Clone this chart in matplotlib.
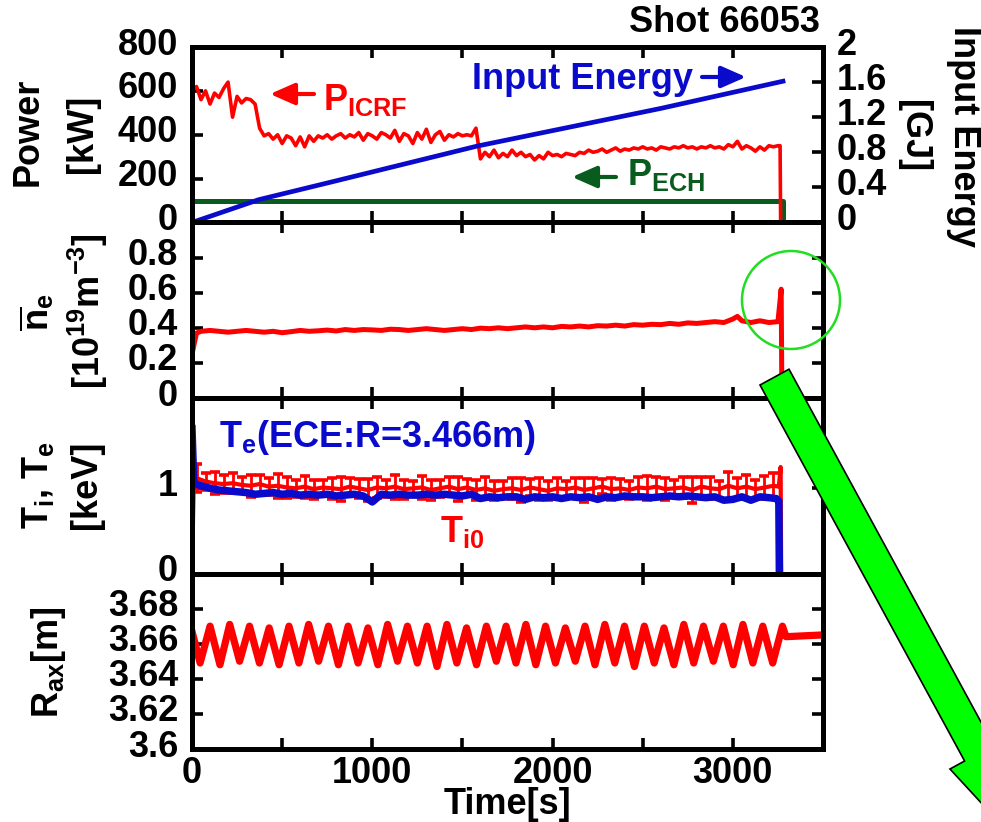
import numpy as np
import matplotlib
matplotlib.use("Agg")
import matplotlib.pyplot as plt
import matplotlib.transforms as mtransforms
from matplotlib.patches import Circle, Polygon

plt.rcParams['font.family'] = ['Liberation Sans', 'DejaVu Sans']
plt.rcParams['font.weight'] = 'bold'
plt.rcParams['mathtext.fontset'] = 'custom'
plt.rcParams['mathtext.rm'] = 'Liberation Sans:bold'
plt.rcParams['mathtext.it'] = 'Liberation Sans:bold'
plt.rcParams['mathtext.bf'] = 'Liberation Sans:bold'
plt.rcParams['mathtext.sf'] = 'Liberation Sans:bold'

# ---------------- data ----------------
icrf_t = list(np.arange(0, 3251, 25)) + [3262, 3265]
icrf_v = [600, 620, 560, 600, 540, 590, 570, 610, 640, 480,
          575, 545, 565, 560, 540, 430, 395, 405, 380, 400,
          360, 395, 385, 350, 390, 345, 395, 370, 395, 385,
          400, 380, 395, 405, 385, 400, 390, 410, 375, 405,
          395, 380, 410, 400, 385, 420, 370, 405, 395, 360,
          410, 380, 425, 365, 400, 415, 375, 400, 390, 405,
          395, 400, 395, 430, 290, 320, 300, 330, 295, 315,
          300, 330, 305, 320, 300, 310, 285, 305, 290, 320,
          305, 310, 300, 315, 310, 305, 320, 315, 330, 320,
          325, 335, 320, 330, 340, 325, 335, 330, 340, 335,
          345, 335, 340, 330, 345, 340, 335, 345, 340, 350,
          340, 345, 335, 345, 340, 350, 340, 345, 335, 355,
          345, 370, 335, 350, 340, 325, 345, 330, 350, 345,
          350, 350, 0]
ech_t = [0, 3278, 3278]
ech_v = [100, 100, 0]
ie_t = [0, 370, 770, 1580, 2600, 3278]
ie_v = [0, 0.26, 0.46, 0.87, 1.30, 1.61]

ne_t = [0, 25, 50, 100, 150, 200, 250, 300, 350, 400, 450, 500, 550, 600, 650, 700,
        750, 800, 850, 900, 950, 1000, 1050, 1100, 1150, 1200, 1250, 1300, 1350, 1400,
        1450, 1500, 1550, 1600, 1650, 1700, 1750, 1800, 1850, 1900, 1950, 2000, 2050,
        2100, 2150, 2200, 2250, 2300, 2350, 2400, 2450, 2500, 2550, 2600, 2650, 2700,
        2750, 2800, 2850, 2900, 2950, 3000, 3025, 3050, 3100, 3150, 3200, 3250, 3268, 3272]
ne_v = [0.25, 0.37, 0.38, 0.385, 0.38, 0.375, 0.38, 0.385, 0.38, 0.375, 0.38, 0.372,
        0.378, 0.385, 0.38, 0.383, 0.387, 0.382, 0.39, 0.385, 0.39, 0.388, 0.385, 0.392,
        0.39, 0.385, 0.39, 0.395, 0.39, 0.385, 0.39, 0.395, 0.39, 0.398, 0.395, 0.40,
        0.395, 0.40, 0.405, 0.40, 0.405, 0.40, 0.408, 0.405, 0.41, 0.405, 0.412, 0.41,
        0.415, 0.41, 0.418, 0.415, 0.42, 0.418, 0.425, 0.42, 0.428, 0.425, 0.43, 0.435,
        0.43, 0.45, 0.465, 0.44, 0.43, 0.44, 0.43, 0.435, 0.62, 0.0]

te_t = [0, 10, 50, 100, 150, 200, 250, 300, 350, 400, 450, 500, 550, 600, 650, 700,
        750, 800, 850, 900, 950, 1000, 1050, 1100, 1150, 1200, 1250, 1300, 1350, 1400,
        1450, 1500, 1550, 1600, 1650, 1700, 1750, 1800, 1850, 1900, 1950, 2000, 2050,
        2100, 2150, 2200, 2250, 2300, 2350, 2400, 2450, 2500, 2550, 2600, 2650, 2700,
        2750, 2800, 2850, 2900, 2950, 3000, 3050, 3100, 3150, 3200, 3240, 3255, 3258]
te_v = [1.70, 1.06, 1.03, 1.00, 0.98, 0.97, 0.96, 0.95, 0.93, 0.94, 0.95, 0.93, 0.94,
        0.92, 0.93, 0.92, 0.93, 0.91, 0.92, 0.93, 0.91, 0.84, 0.93, 0.92, 0.93, 0.92,
        0.92, 0.93, 0.92, 0.93, 0.92, 0.91, 0.93, 0.88, 0.90, 0.89, 0.90, 0.90, 0.87,
        0.90, 0.89, 0.90, 0.88, 0.90, 0.89, 0.90, 0.87, 0.90, 0.89, 0.91, 0.90, 0.90,
        0.89, 0.90, 0.91, 0.90, 0.91, 0.90, 0.89, 0.90, 0.86, 0.87, 0.90, 0.86, 0.90,
        0.89, 0.88, 0.85, 0.0]

ti_t = list(np.arange(25, 3226, 50))
ti_v = [1.12, 1.08, 1.06, 1.05, 1.06, 1.04, 1.03, 1.05, 1.02, 1.03,
        1.01, 1.00, 1.02, 0.99, 1.01, 1.00, 0.99, 1.02, 1.00, 0.98,
        1.01, 1.00, 1.02, 0.99, 1.00, 1.01, 0.98, 1.00, 1.02, 0.99,
        1.01, 0.98, 1.00, 0.97, 0.99, 1.00, 0.98, 1.01, 0.99, 0.97,
        1.00, 0.99, 1.01, 0.98, 1.00, 1.02, 0.99, 1.00, 0.98, 1.01,
        1.00, 1.02, 0.99, 1.00, 1.01, 0.98, 1.02, 1.00, 0.99, 1.03,
        1.00, 1.02, 0.99, 1.01, 1.03]
ti_e = [0.16, 0.10, 0.13, 0.11, 0.12, 0.09, 0.13, 0.11, 0.10, 0.14,
        0.12, 0.10, 0.13, 0.11, 0.09, 0.12, 0.14, 0.10, 0.11, 0.13,
        0.12, 0.10, 0.14, 0.11, 0.09, 0.13, 0.12, 0.10, 0.11, 0.14,
        0.10, 0.12, 0.13, 0.11, 0.09, 0.12, 0.14, 0.10, 0.13, 0.11,
        0.12, 0.10, 0.11, 0.14, 0.12, 0.09, 0.13, 0.11, 0.10, 0.12,
        0.14, 0.11, 0.13, 0.10, 0.12, 0.15, 0.11, 0.13, 0.10, 0.16,
        0.12, 0.14, 0.11, 0.13, 0.15]
ti_start_t = [0, 10]
ti_start_v = [0.0, 1.10]
ti_end_t = [3255, 3265, 3268]
ti_end_v = [1.02, 1.25, 0.0]

rax_t = [0, 45, 100, 155, 209, 264, 319, 374, 428, 483, 538, 593, 647, 702, 757, 812,
         866, 921, 976, 1031, 1085, 1140, 1195, 1250, 1304, 1359, 1414, 1469, 1523, 1578,
         1633, 1688, 1742, 1797, 1852, 1907, 1961, 2016, 2071, 2126, 2180, 2235, 2290,
         2345, 2399, 2454, 2509, 2564, 2618, 2673, 2728, 2783, 2837, 2892, 2947, 3002,
         3056, 3111, 3166, 3221, 3275, 3295, 3500]
rax_v = [3.667,
         3.649, 3.670, 3.648, 3.671, 3.650, 3.670, 3.649, 3.669, 3.648, 3.670,
         3.649, 3.671, 3.650, 3.670, 3.648, 3.670, 3.649, 3.669, 3.648, 3.671,
         3.650, 3.670, 3.649, 3.670, 3.647, 3.671, 3.649, 3.669, 3.648, 3.670,
         3.650, 3.670, 3.649, 3.671, 3.648, 3.670, 3.649, 3.669, 3.650, 3.670,
         3.648, 3.671, 3.649, 3.670, 3.647, 3.670, 3.649, 3.669, 3.648, 3.671,
         3.649, 3.670, 3.650, 3.670, 3.648, 3.671, 3.649, 3.670, 3.649, 3.670,
         3.664, 3.665]

x_ticks = [0, 500, 1000, 1500, 2000, 2500, 3000, 3500]
x_labels = ['0', '', '1000', '', '2000', '', '3000', '']

RED = '#ff0000'
BLUE = '#0a0acc'
GREEN = '#0a5c1e'
FS = 26

# ---------------- figure ----------------
W, H = 981, 822
fig = plt.figure(figsize=(W / 100, H / 100), dpi=100)
pix = mtransforms.Affine2D().scale(1 / 100) + fig.dpi_scale_trans


def fx(x):
    return x / W


def fy(y):
    return 1 - y / H


left, right = 192, 823
tops = [47, 222.5, 398, 573.5, 749]
axes = []
for i in range(4):
    ax = fig.add_axes([fx(left), fy(tops[i + 1]), (right - left) / W,
                       (tops[i + 1] - tops[i]) / H])
    ax.set_xlim(0, 3500)
    ax.set_xticks(x_ticks)
    if i == 3:
        ax.set_xticklabels(x_labels)
    else:
        ax.set_xticklabels([''] * len(x_ticks))
    for s in ax.spines.values():
        s.set_linewidth(3.6)
    ax.tick_params(direction='in', length=8, width=2.6, labelsize=FS,
                   top=True, bottom=True, pad=10)
    ax.tick_params(axis='x', pad=5)
    axes.append(ax)

lab_off = mtransforms.ScaledTranslation(0, 6 / 100, fig.dpi_scale_trans)

# Panel 1
ax1 = axes[0]
ax1.plot(icrf_t, icrf_v, color=RED, lw=2.6, zorder=3)
ax1.plot(ech_t, ech_v, color=GREEN, lw=3.6, zorder=2)
ax1.set_ylim(0, 800)
ax1.set_yticks([0, 200, 400, 600, 800])
ax1.tick_params(axis='y', right=False)
ax1b = ax1.twinx()
ax1b.plot(ie_t, ie_v, color=BLUE, lw=3.4)
ax1b.set_ylim(0, 2)
ax1b.set_yticks([0, 0.4, 0.8, 1.2, 1.6, 2])
ax1b.set_yticklabels(['0', '0.4', '0.8', '1.2', '1.6', '2'])
ax1b.tick_params(direction='in', length=8, width=2.6, labelsize=FS, pad=10)
for s in ax1b.spines.values():
    s.set_linewidth(3.6)

# Panel 2
ax2 = axes[1]
ax2.plot(ne_t, ne_v, color=RED, lw=3.6)
ax2.set_ylim(0, 1.0)
ax2.set_yticks([0, 0.2, 0.4, 0.6, 0.8])
ax2.set_yticklabels(['0', '0.2', '0.4', '0.6', '0.8'])
ax2.tick_params(axis='y', right=True)

# Panel 3
ax3 = axes[2]
ax3.plot(ti_start_t + ti_t + ti_end_t, ti_start_v + ti_v + ti_end_v, color=RED, lw=3.0)
ax3.errorbar(ti_t, ti_v, yerr=ti_e, fmt='none', ecolor=RED, elinewidth=2.0,
             capsize=3.5, capthick=2.6)
ax3.plot(te_t, te_v, color=BLUE, lw=5.4)
ax3.set_ylim(0, 2.06)
ax3.set_yticks([0, 1])
ax3.set_yticklabels(['0', '1'])
ax3.tick_params(axis='y', right=True)

# Panel 4
ax4 = axes[3]
ax4.plot(rax_t, rax_v, color=RED, lw=5.2)
ax4.set_ylim(3.6, 3.7)
ax4.set_yticks([3.6, 3.62, 3.64, 3.66, 3.68])
ax4.set_yticklabels(['3.6', '3.62', '3.64', '3.66', '3.68'])
ax4.tick_params(axis='y', right=True)

for a in [ax1, ax2, ax3, ax4]:
    for lab in a.get_yticklabels(which='major'):
        lab.set_transform(lab.get_transform() + lab_off)
for t in ax1b.yaxis.get_major_ticks():
    t.label2.set_transform(t.label2.get_transform() + lab_off)

# ---------------- labels ----------------
def ftext(x, y, s, **kw):
    kw.setdefault('fontsize', FS)
    kw.setdefault('fontweight', 'bold')
    return fig.text(fx(x), fy(y), s, **kw)

ftext(820, 23, 'Shot 66053', ha='right', va='center')
ftext(28, 132, 'Power', rotation=90, ha='center', va='center')
ftext(83, 134, '[kW]', rotation=90, ha='center', va='center')
ftext(963, 137, 'Input Energy', rotation=-90, ha='center', va='center')
ftext(914, 136, '[GJ]', rotation=-90, ha='center', va='center')
ftext(37, 312, r'$\overline{n}_e$', rotation=90, ha='center', va='center')
ftext(88, 311, r'[10$^{19}$m$^{-3}$]', rotation=90, ha='center', va='center')
ftext(38, 485, r'T$_i$, T$_e$', rotation=90, ha='center', va='center')
ftext(87, 485, '[keV]', rotation=90, ha='center', va='center')
ftext(48, 662, r'R$_{ax}$[m]', rotation=90, ha='center', va='center')
ftext(507, 804, 'Time[s]', ha='center', va='center')

ftext(472, 89, 'Input Energy', color=BLUE, ha='left', va='baseline')
ftext(323, 110, r'P$_{ICRF}$', color=RED, ha='left', va='baseline')
ftext(627, 185, r'P$_{ECH}$', color=GREEN, ha='left', va='baseline')
ftext(219, 447, r'T$_e$(ECE:R=3.466m)', color=BLUE, ha='left', va='baseline')
ftext(440, 542, r'T$_{i0}$', color=RED, ha='left', va='baseline')


def parrow(tail, tip, color):
    fig.add_artist(matplotlib.patches.FancyArrowPatch(
        (tail[0], H - tail[1]), (tip[0], H - tip[1]), transform=pix,
        arrowstyle='-|>,head_length=0.75,head_width=0.33', mutation_scale=20,
        lw=3, color=color, shrinkA=0, shrinkB=0))

parrow((314, 94), (270, 94), RED)
parrow((702, 77), (746, 77), BLUE)
parrow((616, 177), (572, 177), GREEN)

# green circle and arrow
fig.add_artist(Circle((791, H - 300), 49, transform=pix, fill=False,
                      edgecolor='#22dd22', lw=1.8))
arrow_pts = [(760, 385), (964.6, 761), (950, 769), (1042.7, 869.7),
             (1008, 737.3), (993.6, 745.2), (789, 369.2)]
fig.add_artist(Polygon([(x, H - y) for x, y in arrow_pts], closed=True,
                       transform=pix, facecolor='#00ff00', edgecolor='black',
                       lw=1.2))

fig.savefig('out.png', dpi=100)
